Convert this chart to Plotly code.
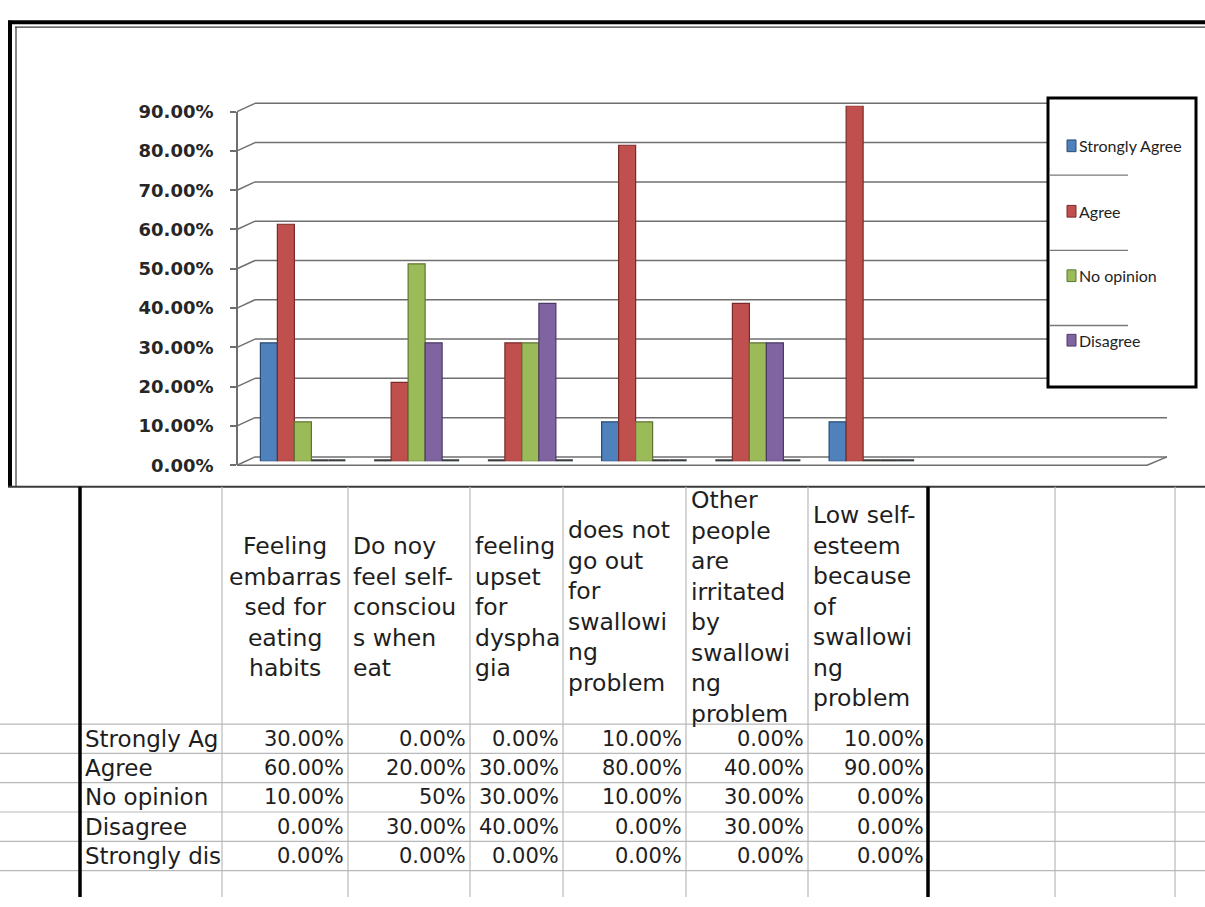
import plotly.graph_objects as go

W, H = 1205, 907

# ---------------- data ----------------
categories = [
    "Feeling embarrassed for eating habits",
    "Do noy feel self-conscious when eat",
    "feeling upset for dysphagia",
    "does not go out for swallowing problem",
    "Other people are irritated by swallowing problem",
    "Low self-esteem because of swallowing problem",
]
header_labels = [
    "Feeling<br>embarras<br>sed for<br>eating<br>habits",
    "Do noy<br>feel self-<br>consciou<br>s when<br>eat",
    "feeling<br>upset<br>for<br>dyspha<br>gia",
    "does not<br>go out<br>for<br>swallowi<br>ng<br>problem",
    "Other<br>people<br>are<br>irritated<br>by<br>swallowi<br>ng<br>problem",
    "Low self-<br>esteem<br>because<br>of<br>swallowi<br>ng<br>problem",
]
series_names = ["Strongly Agree", "Agree", "No opinion", "Disagree", "Strongly disagree"]
row_labels = ["Strongly Ag", "Agree", "No opinion", "Disagree", "Strongly dis"]

strongly_agree = [0.30, 0.00, 0.00, 0.10, 0.00, 0.10]
agree = [0.60, 0.20, 0.30, 0.80, 0.40, 0.90]
no_opinion = [0.10, 0.50, 0.30, 0.10, 0.30, 0.00]
disagree = [0.00, 0.30, 0.40, 0.00, 0.30, 0.00]
strongly_disagree = [0.00, 0.00, 0.00, 0.00, 0.00, 0.00]
series_values = [strongly_agree, agree, no_opinion, disagree, strongly_disagree]

# cells whose displayed format differs in the sheet
cell_text_override = {(2, 1): "50%"}

y_ticks = [0.0, 0.1, 0.2, 0.3, 0.4, 0.5, 0.6, 0.7, 0.8, 0.9]
legend_shown = 4  # legend box only shows the first four series

# ---------------- styles ----------------
fills = ["#4F81BD", "#C0504D", "#9BBB59", "#8064A2", "#4BACC6"]
edges = ["#2A4A75", "#7A2B29", "#5E7631", "#4B3A63", "#2C7A8F"]
GRID = "#6f6f6f"
TEXT = "#1e1e1e"
CELL = "#b9b9b9"


def px(x):
    return x / W


def py(y):
    return 1 - y / H


# geometry (pixels)
FRONT_L, FRONT_R = 237, 1147
DX, DY = 18, -8.5
FRONT_Y0, FRONT_Y90 = 465, 103
BAR_Y0, BAR_Y90 = 461, 97
BAR_XL, BAR_XR = 246, 1156
N_SLOTS = 8


def front_y(v):
    return FRONT_Y0 - v / 0.9 * (FRONT_Y0 - FRONT_Y90)


fig = go.Figure()

stub_h = 0.005
for i, (name, vals) in enumerate(zip(series_names, series_values)):
    fig.add_trace(go.Bar(
        x=categories, y=vals, name=name, offsetgroup=str(i),
        marker=dict(color=fills[i], line=dict(color=edges[i], width=1.2)),
        showlegend=False,
    ))
    fig.add_trace(go.Bar(
        x=categories, y=[stub_h if v == 0 else None for v in vals],
        offsetgroup=str(i), marker=dict(color="#3c3c3c", line=dict(width=0)),
        showlegend=False, hoverinfo="skip",
    ))

# invisible trace to host the front value axis
fig.add_trace(go.Scatter(x=[None], y=[None], xaxis="x2", yaxis="y2",
                         showlegend=False, hoverinfo="skip"))

shapes = []


def line(x0, y0, x1, y1, color=GRID, width=1.5, layer="below"):
    shapes.append(dict(type="line", xref="paper", yref="paper",
                       x0=px(x0), y0=py(y0), x1=px(x1), y1=py(y1),
                       line=dict(color=color, width=width), layer=layer))


# back wall gridlines + side wall slants
for v in y_ticks:
    yf = front_y(v)
    yb = yf + DY
    line(FRONT_L, yf, FRONT_L + DX, yb)
    line(FRONT_L + DX, yb, FRONT_R + DX + 2, yb)
# floor
line(FRONT_L, FRONT_Y0, FRONT_R, FRONT_Y0)
line(FRONT_R, FRONT_Y0, FRONT_R + DX + 2, FRONT_Y0 + DY)

# chart outer border (double)
line(8, 11.5, W, 11.5, color="#000000", width=4, layer="above")
line(10, 10, 10, 487, color="#000000", width=4, layer="above")
line(15, 16.5, W, 16.5, color="#3a3a3a", width=1.2, layer="above")
line(16, 16, 16, 487, color="#3a3a3a", width=1.2, layer="above")
line(8, 487, W, 487, color="#3a3a3a", width=2, layer="above")

# legend box
shapes.append(dict(type="rect", xref="paper", yref="paper",
                   x0=px(1048), y0=py(385), x1=px(1196), y1=py(89),
                   fillcolor="white", line=dict(color="#000000", width=3),
                   layer="above"))
for yl in [168, 245, 322]:
    line(1050, yl, 1128, yl, color="#7a7a7a", width=1.4, layer="above")

legend_y = [138, 205, 271, 337]
annotations = []
LEG_FONT = dict(family="Lato, Liberation Sans", size=16, color=TEXT)
for i in range(legend_shown):
    yc = legend_y[i]
    shapes.append(dict(type="rect", xref="paper", yref="paper",
                       x0=px(1067), y0=py(yc + 6), x1=px(1076), y1=py(yc - 6),
                       fillcolor=fills[i], line=dict(color=edges[i], width=1),
                       layer="above"))
    annotations.append(dict(x=px(1077), y=py(yc), xref="paper", yref="paper",
                            text=series_names[i], showarrow=False,
                            xanchor="left", yanchor="middle", font=LEG_FONT))

# ---------------- spreadsheet table ----------------
col_edges = [80, 222, 348, 470, 563, 686, 808, 928, 1055, 1175]
row_edges = [730, 760, 790, 820, 850, 880]
TABLE_TOP, TABLE_BOT = 487, H

for xc in col_edges:
    if xc in (80, 928):
        continue
    line(xc, TABLE_TOP, xc, TABLE_BOT, color=CELL, width=1.2, layer="above")
for yr in row_edges:
    line(0, yr, W, yr, color=CELL, width=1.2, layer="above")
line(80, TABLE_TOP, 80, TABLE_BOT, color="#000000", width=3.5, layer="above")
line(928, TABLE_TOP, 928, TABLE_BOT, color="#000000", width=3.5, layer="above")

HEAD_FONT = dict(family="DejaVu Sans, Verdana", size=23.5, color=TEXT)
CELL_FONT = dict(family="DejaVu Sans, Verdana", size=21, color=TEXT)
LAB_FONT = dict(family="DejaVu Sans, Verdana", size=23, color=TEXT)

header_mid = 610
for j, lab in enumerate(header_labels):
    xl, xr = col_edges[j + 1], col_edges[j + 2]
    if j == 0:
        annotations.append(dict(x=px((xl + xr) / 2), y=py(header_mid), xref="paper", yref="paper",
                                text=lab, showarrow=False, xanchor="center", yanchor="middle",
                                align="center", font=HEAD_FONT))
    else:
        annotations.append(dict(x=px(xl + 3), y=py(header_mid), xref="paper", yref="paper",
                                text=lab, showarrow=False, xanchor="left", yanchor="middle",
                                align="left", font=HEAD_FONT))

for r, (lab, vals) in enumerate(zip(row_labels, series_values)):
    yc = (row_edges[r] + row_edges[r + 1]) / 2
    annotations.append(dict(x=px(83), y=py(yc), xref="paper", yref="paper",
                            text=lab, showarrow=False, xanchor="left", yanchor="middle",
                            font=LAB_FONT))
    for j, v in enumerate(vals):
        txt = cell_text_override.get((r, j), f"{v:.2%}")
        annotations.append(dict(x=px(col_edges[j + 2] - 2), y=py(yc), xref="paper", yref="paper",
                                text=txt, showarrow=False, xanchor="right", yanchor="middle",
                                font=CELL_FONT))

fig.update_layout(
    width=W, height=H,
    margin=dict(l=0, r=0, t=0, b=0),
    paper_bgcolor="white", plot_bgcolor="rgba(0,0,0,0)",
    barmode="group", bargap=1 - 85 / 113.75, bargroupgap=0,
    showlegend=False,
    xaxis=dict(type="category", categoryorder="array", categoryarray=categories,
               range=[-0.5, N_SLOTS - 0.5], domain=[px(BAR_XL), px(BAR_XR)],
               visible=False, fixedrange=True),
    yaxis=dict(range=[0, 0.9], domain=[py(BAR_Y0), py(BAR_Y90)],
               visible=False, fixedrange=True),
    xaxis2=dict(domain=[px(FRONT_L), px(FRONT_R)], anchor="y2", visible=False,
                range=[0, 1], fixedrange=True),
    yaxis2=dict(range=[0, 0.9], domain=[py(FRONT_Y0), py(FRONT_Y90)],
                anchor="free", position=px(FRONT_L), side="left",
                tickvals=y_ticks, tickformat=".2%",
                ticks="outside", ticklen=6, tickwidth=1.5, tickcolor=GRID,
                showline=True, linecolor=GRID, linewidth=1.8,
                showgrid=False, zeroline=False, ticklabelstandoff=13,
                tickfont=dict(family="DejaVu Sans, Verdana", size=18, color="#262626", weight="bold"),
                fixedrange=True),
    shapes=shapes,
    annotations=annotations,
)

fig.write_html("out.html")
